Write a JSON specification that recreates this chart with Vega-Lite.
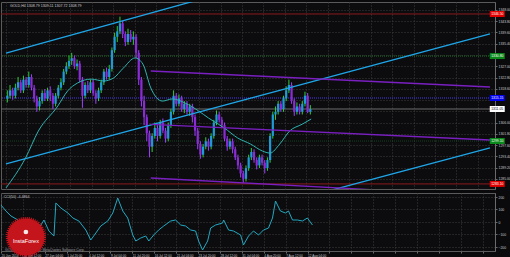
{
"$schema":"https://vega.github.io/schema/vega-lite/v6.json",
"background":"#0a0a0c",
"padding":{"left":0,"top":1,"right":0,"bottom":0},
"spacing":2,
"datasets":{
"candles":[
{"b":1,"o":1315,"h":1318,"l":1313.5,"c":1316},{"b":3,"o":1316,"h":1320,"l":1315,"c":1318},{"b":5,"o":1318,"h":1319,"l":1314.5,"c":1316},{"b":7,"o":1316,"h":1320.5,"l":1315,"c":1319},{"b":9,"o":1319,"h":1323,"l":1318,"c":1321},{"b":11,"o":1321,"h":1322,"l":1317,"c":1318},{"b":13,"o":1318,"h":1323.5,"l":1317,"c":1322},{"b":15,"o":1322,"h":1323,"l":1319,"c":1320},{"b":17,"o":1320,"h":1325,"l":1319,"c":1323},{"b":19,"o":1323,"h":1324,"l":1318,"c":1319},
{"b":21,"o":1319,"h":1320,"l":1313.5,"c":1315},{"b":23,"o":1315,"h":1316,"l":1310,"c":1312},{"b":25,"o":1312,"h":1315.5,"l":1310.5,"c":1314},{"b":27,"o":1314,"h":1318,"l":1313,"c":1317},{"b":29,"o":1317,"h":1318.5,"l":1314,"c":1315},{"b":31,"o":1315,"h":1319,"l":1314,"c":1318},{"b":33,"o":1318,"h":1319.5,"l":1314,"c":1316},{"b":35,"o":1316,"h":1317,"l":1311,"c":1313},{"b":37,"o":1313,"h":1317,"l":1312,"c":1316},{"b":39,"o":1316,"h":1320,"l":1315,"c":1319},
{"b":41,"o":1319,"h":1322.5,"l":1318,"c":1321},{"b":43,"o":1321,"h":1326,"l":1320,"c":1325},{"b":45,"o":1325,"h":1328.5,"l":1324,"c":1327},{"b":47,"o":1327,"h":1331,"l":1326,"c":1329},{"b":49,"o":1329,"h":1332,"l":1327.5,"c":1330},{"b":51,"o":1330,"h":1331,"l":1326,"c":1327},{"b":53,"o":1327,"h":1329.5,"l":1325.5,"c":1328},{"b":55,"o":1328,"h":1329,"l":1321,"c":1322},{"b":57,"o":1322,"h":1323,"l":1311.5,"c":1316},{"b":59,"o":1316,"h":1321,"l":1315,"c":1320},
{"b":61,"o":1320,"h":1321.5,"l":1317,"c":1318},{"b":63,"o":1318,"h":1322,"l":1317,"c":1321},{"b":65,"o":1321,"h":1322,"l":1316,"c":1317},{"b":67,"o":1317,"h":1318,"l":1313,"c":1315},{"b":69,"o":1315,"h":1319,"l":1314,"c":1318},{"b":71,"o":1318,"h":1322,"l":1317,"c":1321},{"b":73,"o":1321,"h":1326,"l":1320,"c":1325},{"b":75,"o":1325,"h":1326.5,"l":1322,"c":1323},{"b":77,"o":1323,"h":1327.5,"l":1322,"c":1326},{"b":79,"o":1326,"h":1334,"l":1325,"c":1333},
{"b":81,"o":1333,"h":1339.5,"l":1332,"c":1338},{"b":83,"o":1338,"h":1342,"l":1336,"c":1340},{"b":85,"o":1340,"h":1345.5,"l":1339,"c":1343},{"b":87,"o":1343,"h":1344,"l":1337.5,"c":1339},{"b":89,"o":1339,"h":1340,"l":1334.5,"c":1336},{"b":91,"o":1336,"h":1341,"l":1335,"c":1339},{"b":93,"o":1339,"h":1340.5,"l":1336,"c":1337},{"b":95,"o":1337,"h":1340,"l":1335,"c":1338},{"b":97,"o":1338,"h":1339,"l":1330,"c":1332},{"b":99,"o":1332,"h":1333,"l":1320,"c":1322},
{"b":101,"o":1322,"h":1323,"l":1312,"c":1314},{"b":103,"o":1314,"h":1316,"l":1305,"c":1308},{"b":105,"o":1308,"h":1309,"l":1299,"c":1302},{"b":107,"o":1302,"h":1303,"l":1293,"c":1297},{"b":109,"o":1297,"h":1302,"l":1295,"c":1301},{"b":111,"o":1301,"h":1306,"l":1300,"c":1304},{"b":113,"o":1304,"h":1305,"l":1299,"c":1301},{"b":115,"o":1301,"h":1307,"l":1300,"c":1306},{"b":117,"o":1306,"h":1307.5,"l":1302,"c":1303},{"b":119,"o":1303,"h":1304,"l":1298.5,"c":1300},
{"b":121,"o":1300,"h":1306,"l":1299,"c":1305},{"b":123,"o":1305,"h":1311,"l":1304,"c":1310},{"b":125,"o":1310,"h":1318,"l":1309,"c":1316},{"b":127,"o":1316,"h":1317,"l":1312,"c":1313},{"b":129,"o":1313,"h":1316.5,"l":1312,"c":1315},{"b":131,"o":1315,"h":1316,"l":1310,"c":1311},{"b":133,"o":1311,"h":1314,"l":1309.5,"c":1313},{"b":135,"o":1313,"h":1314,"l":1309,"c":1310},{"b":137,"o":1310,"h":1313,"l":1308.5,"c":1312},{"b":139,"o":1312,"h":1313,"l":1306,"c":1308},
{"b":141,"o":1308,"h":1309,"l":1301,"c":1303},{"b":143,"o":1303,"h":1304,"l":1296,"c":1298},{"b":145,"o":1298,"h":1299,"l":1292.5,"c":1294},{"b":147,"o":1294,"h":1298,"l":1293,"c":1297},{"b":149,"o":1297,"h":1300.5,"l":1296,"c":1299},{"b":151,"o":1299,"h":1300,"l":1295.5,"c":1297},{"b":153,"o":1297,"h":1302,"l":1296,"c":1301},{"b":155,"o":1301,"h":1307,"l":1300,"c":1306},{"b":157,"o":1306,"h":1310.5,"l":1305,"c":1309},{"b":159,"o":1309,"h":1310,"l":1306,"c":1307},
{"b":161,"o":1307,"h":1308,"l":1304,"c":1305},{"b":163,"o":1305,"h":1306,"l":1299,"c":1300},{"b":165,"o":1300,"h":1301,"l":1295.5,"c":1297},{"b":167,"o":1297,"h":1300,"l":1296,"c":1299},{"b":169,"o":1299,"h":1300,"l":1294.5,"c":1296},{"b":171,"o":1296,"h":1297,"l":1292,"c":1293},{"b":173,"o":1293,"h":1294,"l":1288.5,"c":1290},{"b":175,"o":1290,"h":1291,"l":1285.5,"c":1287},{"b":177,"o":1287,"h":1288,"l":1283.5,"c":1285},{"b":179,"o":1285,"h":1290,"l":1284,"c":1289},
{"b":181,"o":1289,"h":1294,"l":1288,"c":1293},{"b":183,"o":1293,"h":1296.5,"l":1292,"c":1295},{"b":185,"o":1295,"h":1296,"l":1291,"c":1292},{"b":187,"o":1292,"h":1293,"l":1288.5,"c":1290},{"b":189,"o":1290,"h":1294,"l":1289,"c":1293},{"b":191,"o":1293,"h":1294,"l":1290,"c":1291},{"b":193,"o":1291,"h":1292,"l":1287,"c":1289},{"b":195,"o":1289,"h":1293,"l":1288,"c":1292},{"b":197,"o":1292,"h":1302,"l":1291,"c":1301},{"b":199,"o":1301,"h":1310,"l":1300,"c":1309},
{"b":201,"o":1309,"h":1312,"l":1307,"c":1310},{"b":203,"o":1310,"h":1314,"l":1309,"c":1313},{"b":205,"o":1313,"h":1314,"l":1310,"c":1311},{"b":207,"o":1311,"h":1316,"l":1310,"c":1315},{"b":209,"o":1315,"h":1319.5,"l":1314,"c":1318},{"b":211,"o":1318,"h":1322,"l":1317,"c":1320},{"b":213,"o":1320,"h":1321,"l":1313,"c":1314},{"b":215,"o":1314,"h":1315,"l":1308.5,"c":1310},{"b":217,"o":1310,"h":1313.5,"l":1309,"c":1312},{"b":219,"o":1312,"h":1313,"l":1309,"c":1310},
{"b":221,"o":1310,"h":1314,"l":1309,"c":1313},{"b":223,"o":1313,"h":1317.5,"l":1312,"c":1316},{"b":225,"o":1316,"h":1317,"l":1309.5,"c":1310},{"b":227,"o":1310,"h":1312.5,"l":1309,"c":1311}
],
"ma":[{"b":0,"p":1281.6},{"b":14.6,"p":1292.8},{"b":24.1,"p":1302.8},{"b":38.7,"p":1312.2},{"b":46,"p":1317.8},{"b":53.2,"p":1320.7},{"b":63.5,"p":1322.2},{"b":72.9,"p":1321.5},{"b":80.2,"p":1322.6},{"b":87.5,"p":1326.3},{"b":96.3,"p":1330.1},{"b":102.1,"p":1327.8},{"b":108,"p":1318.9},{"b":116.7,"p":1314.0},{"b":124,"p":1314.8},{"b":133.5,"p":1313.3},{"b":143.7,"p":1310.3},{"b":151,"p":1307.7},{"b":158.3,"p":1305.4},{"b":162.7,"p":1304.0},{"b":172.9,"p":1300.2},{"b":182.3,"p":1298.0},{"b":191.1,"p":1295.4},{"b":196.9,"p":1294.6},{"b":204.2,"p":1298.0},{"b":211.5,"p":1302.8},{"b":221,"p":1305.4},{"b":227.6,"p":1307.3}],
"trend":[
{"line":"up1","kind":"trend","b":0,"p":1331.94},{"line":"up1","kind":"trend","b":361,"p":1381.8},
{"line":"up2","kind":"trend","b":0,"p":1290.53},{"line":"up2","kind":"trend","b":361,"p":1339.11},
{"line":"up3","kind":"trend","b":218.8,"p":1277.6},{"line":"up3","kind":"trend","b":361,"p":1296.5},
{"line":"ch1","kind":"channel","b":108,"p":1325.23},{"line":"ch1","kind":"channel","b":361,"p":1319.26},
{"line":"ch2","kind":"channel","b":108,"p":1305.3},{"line":"ch2","kind":"channel","b":361,"p":1299.48},
{"line":"ch3","kind":"channel","b":108,"p":1285.3},{"line":"ch3","kind":"channel","b":361,"p":1278.6}
],
"levels":[{"lvl":"R2","p":1346.5},{"lvl":"R1","p":1330.8},{"lvl":"PP","p":1315.15},{"lvl":"Bid","p":1311.05},{"lvl":"S1","p":1299.1},{"lvl":"S2","p":1283.1}],
"cci":[{"b":0,"v":136},{"b":3.6,"v":88},{"b":7.3,"v":48},{"b":12.4,"v":16},{"b":14.6,"v":-48},{"b":18.2,"v":-72},{"b":21.9,"v":-48},{"b":27,"v":-64},{"b":31.4,"v":16},{"b":35,"v":-72},{"b":38.7,"v":-112},{"b":40.1,"v":152},{"b":43.8,"v":112},{"b":48.9,"v":72},{"b":52.5,"v":32},{"b":56.9,"v":8},{"b":62,"v":-64},{"b":65.6,"v":-144},{"b":69.3,"v":-88},{"b":72.9,"v":-32},{"b":78,"v":8},{"b":81.7,"v":72},{"b":85.3,"v":192},{"b":89,"v":88},{"b":92.6,"v":32},{"b":96.3,"v":-104},{"b":98.5,"v":-152},{"b":102.1,"v":-128},{"b":105.8,"v":-112},{"b":108,"v":-152},{"b":111.6,"v":-104},{"b":115.2,"v":-64},{"b":118.9,"v":-32},{"b":124,"v":8},{"b":127.6,"v":16},{"b":131.3,"v":-24},{"b":134.9,"v":-32},{"b":138.6,"v":-64},{"b":142.2,"v":-72},{"b":144.4,"v":-152},{"b":147.3,"v":-224},{"b":151,"v":-152},{"b":153.2,"v":-48},{"b":156.8,"v":-24},{"b":161.9,"v":-8},{"b":162.7,"v":16},{"b":166.3,"v":-64},{"b":169.9,"v":-72},{"b":175.1,"v":-104},{"b":177.2,"v":-184},{"b":180.9,"v":-112},{"b":184.5,"v":-72},{"b":188.2,"v":-104},{"b":191.8,"v":-64},{"b":195.5,"v":-48},{"b":198.4,"v":32},{"b":200.6,"v":168},{"b":204.2,"v":88},{"b":207.9,"v":72},{"b":210.1,"v":88},{"b":213,"v":16},{"b":216.6,"v":16},{"b":220.3,"v":8},{"b":223.9,"v":32},{"b":227.6,"v":-24}]
},
"vconcat":[
{
"width":494,"height":187,
"encoding":{
  "x":{"type":"quantitative","scale":{"domain":[0,361],"nice":false,"zero":false},"axis":{"title":null,"values":[0,16,32,48,64,80,96,112,128,144,160,176,192,208,224,240,256,272,288,304,320,336,352],"labels":false,"ticks":false,"domain":false,"grid":true}},
  "y":{"type":"quantitative","scale":{"domain":[1281.2,1350.97],"nice":false,"zero":false},"axis":{"orient":"right","title":null,"values":[1348,1343.8,1339.6,1335.4,1331.2,1327,1322.8,1318.6,1314.4,1310.2,1306,1301.8,1297.6,1293.4,1289.2,1285],"labelExpr":"(abs(datum.value-1331.2)<0.01 || abs(datum.value-1314.4)<0.01 || abs(datum.value-1310.2)<0.01) ? '' : format(datum.value, '.2f')","labelFontSize":3.4,"grid":true}}
},
"layer":[
{"data":{"name":"levels"},"mark":{"type":"rule","strokeWidth":1},
 "encoding":{
  "y":{"field":"p"},
  "color":{"field":"lvl","type":"nominal","scale":{"domain":["R2","R1","PP","Bid","S1","S2"],"range":["#8b1a1a","#1f6e2b","#4a3cf0","#6e6e6e","#17421f","#8b1a1a"]},"legend":null},
  "strokeDash":{"field":"lvl","type":"nominal","scale":{"domain":["R2","R1","PP","Bid","S1","S2"],"range":[[1,0],[1,1],[1,1],[1,0],[1,1],[1,0]]},"legend":null}}},
{"data":{"name":"candles"},"mark":{"type":"rule","strokeWidth":1},
 "encoding":{
  "x":{"field":"b"},
  "y":{"field":"l"},
  "y2":{"field":"h"},
  "color":{"condition":{"test":"datum.c >= datum.o","value":"#2ccf3a"},"value":"#a040ff"}}},
{"data":{"name":"candles"},"mark":{"type":"bar","size":2.2},
 "encoding":{
  "x":{"field":"b"},
  "y":{"field":"o"},
  "y2":{"field":"c"},
  "color":{"condition":{"test":"datum.c >= datum.o","value":"#1e9ad6"},"value":"#8b2bd6"}}},
{"data":{"name":"ma"},"mark":{"type":"line","strokeWidth":1,"color":"#2fb3b0","clip":true,"interpolate":"monotone"},
 "encoding":{"x":{"field":"b"},"y":{"field":"p"}}},
{"data":{"name":"trend"},"mark":{"type":"line","strokeWidth":1.3,"clip":true},
 "encoding":{
  "x":{"field":"b"},
  "y":{"field":"p"},
  "detail":{"field":"line"},
  "color":{"field":"kind","type":"nominal","scale":{"domain":["trend","channel"],"range":["#1fa6e8","#7a1fc0"]},"legend":null}}},
{"data":{"name":"levels"},"mark":{"type":"tick","orient":"horizontal","size":15,"thickness":6,"opacity":1},
 "encoding":{
  "x":{"datum":366.4},
  "y":{"field":"p"},
  "color":{"field":"lvl","type":"nominal","scale":{"domain":["R2","R1","PP","Bid","S1","S2"],"range":["#e00000","#0a8a1a","#0000f0","#ffffff","#0a8a1a","#e00000"]},"legend":null}}},
{"data":{"name":"levels"},"mark":{"type":"text","align":"left","baseline":"middle","fontSize":3.4},
 "encoding":{
  "x":{"datum":361.9},
  "y":{"field":"p"},
  "text":{"field":"p","format":".2f"},
  "color":{"field":"lvl","type":"nominal","scale":{"domain":["R2","R1","PP","Bid","S1","S2"],"range":["#ffffff","#ffffff","#ffffff","#000000","#ffffff","#ffffff"]},"legend":null}}},
{"data":{"values":[{"t":"GOLD,H4  1308.79 1309.11 1307.72 1308.79"}]},"mark":{"type":"text","align":"left","baseline":"middle","fontSize":3.6,"color":"#d0d0d0"},
 "encoding":{
  "x":{"datum":3},
  "y":{"datum":1349.6},
  "text":{"field":"t"}}}
],
"resolve":{"scale":{"color":"independent","strokeDash":"independent"}}
},
{
"width":494,"height":58,
"encoding":{
  "x":{"type":"quantitative","scale":{"domain":[0,361],"nice":false,"zero":false},"axis":{"title":null,"values":[0,16,32,48,64,80,96,112,128,144,160,176,192,208,224,240,256,272,288,304,320,336,352],"labelExpr":"datum.value <= 224 ? ['20 Jun 2014','24 Jun 12:00','27 Jun 04:00','1 Jul 20:00','4 Jul 12:00','9 Jul 04:00','11 Jul 20:00','16 Jul 12:00','21 Jul 04:00','23 Jul 20:00','28 Jul 12:00','31 Jul 04:00','4 Aug 20:00','7 Aug 12:00','12 Aug 04:00'][round(datum.value/16)] : ''","labelAlign":"left","labelFontSize":3.1,"grid":true,"domain":false}},
  "y":{"type":"quantitative","scale":{"domain":[-232,232],"nice":false,"zero":false},"axis":{"orient":"right","title":null,"values":[200,100,0,-100,-200],"labelFontSize":3.4,"grid":true}}
},
"layer":[
{"data":{"name":"cci"},"mark":{"type":"line","strokeWidth":1,"color":"#22a8c0","clip":true},
 "encoding":{"x":{"field":"b"},"y":{"field":"v"}}},
{"data":{"values":[{"t":"CCI(50) -4.4864"}]},"mark":{"type":"text","align":"left","baseline":"middle","fontSize":3.6,"color":"#c8c8c8"},
 "encoding":{"x":{"datum":2},"y":{"datum":198},"text":{"field":"t"}}},
{"data":{"values":[{"t":"GOLD,H4  © 2001-2014, MetaQuotes Software Corp."}]},"mark":{"type":"text","align":"left","baseline":"middle","fontSize":3.4,"color":"#a0a0a0"},
 "encoding":{"x":{"datum":3},"y":{"datum":-222},"text":{"field":"t"}}},
{"data":{"values":[{"n":"logo"}]},"mark":{"type":"point","shape":"circle","filled":true,"size":1385,"color":"#c4151c","opacity":1,"stroke":"#c4151c","strokeWidth":3,"strokeDash":[1,1]},
 "encoding":{"x":{"datum":18.2},"y":{"datum":-120}}},
{"data":{"values":[{"n":"icon"}]},"mark":{"type":"point","shape":"circle","filled":true,"size":22,"color":"#ffffff","opacity":0.9},
 "encoding":{"x":{"datum":18.2},"y":{"datum":-80}}},
{"data":{"values":[{"t":"InstaForex"}]},"mark":{"type":"text","align":"center","baseline":"middle","fontSize":5.5,"color":"#ffffff"},
 "encoding":{"x":{"datum":18.2},"y":{"datum":-150},"text":{"field":"t"}}}
]
}
],
"config":{
 "view":{"stroke":"#5a5a5a","fill":"#0c0c0f"},
 "axis":{"labelFont":"Liberation Sans","labelColor":"#c8c8c8","domainColor":"#6a6a6a","tickColor":"#6a6a6a","tickSize":2,"gridColor":"#3d3d3d","gridDash":[1,2],"gridWidth":1,"labelOverlap":false,"labelPadding":1,"labelBound":false,"labelFlush":false},
 "text":{"font":"Liberation Sans"}
}
}
